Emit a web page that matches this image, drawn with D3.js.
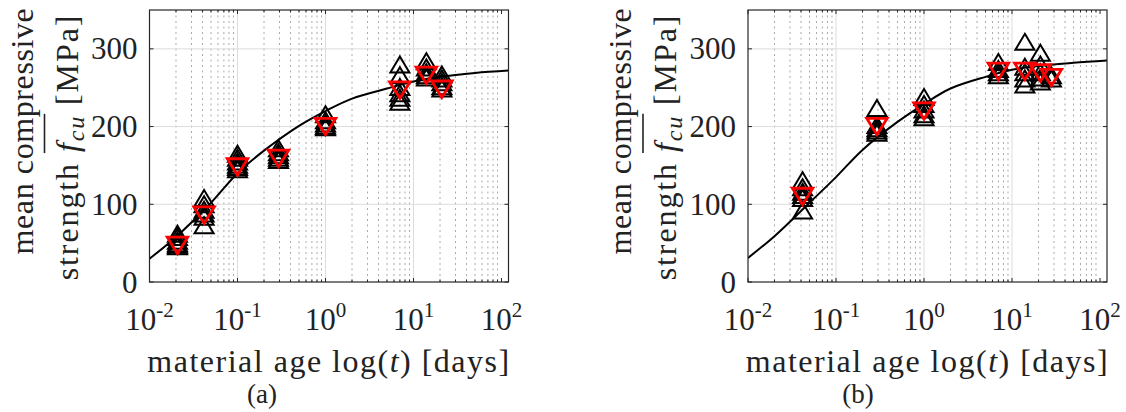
<!DOCTYPE html>
<html>
<head>
<meta charset="utf-8">
<script src="https://cdn.jsdelivr.net/npm/d3@7"></script>
<style>
  html, body { margin: 0; padding: 0; background: #fff; }
  svg { display: block; }
  text { font-family: "Liberation Serif", serif; fill: #222; }
</style>
</head>
<body>
<svg id="chart" width="1126" height="412"></svg>
<script>
// axis ticks
let xTicks = [0.01, 0.1, 1, 10, 100]
let xTickExp = ['-2', '-1', '0', '1', '2']
let yTicks = [0, 100, 200, 300]

// panel (a): ages in days, individual specimens and the mean of each age
let agesA = [0.0208, 0.0417, 0.1, 0.292, 1.0, 7, 14, 21]
let specimensA = [
    [46, 48, 50, 53, 58, 62],
    [73, 84, 88, 93, 100, 108],
    [145, 148, 151, 155, 160, 165],
    [157, 160, 163, 167, 172],
    [199, 201, 204, 208, 216],
    [232, 237, 243, 251, 266, 280],
    [263, 266, 270, 276, 284],
    [249, 252, 257, 262, 267]
]
let meansA = [47, 86, 148, 159, 200, 247, 266, 248]
let fitAgesA = [0.01, 0.02, 0.05, 0.1, 0.2, 0.5, 1, 2, 5, 10, 20, 50, 120]
let fitValsA = [30, 58, 102, 140, 169, 201, 220, 236, 249, 258, 264, 269, 272]

// panel (b)
let agesB = [0.0417, 0.292, 1.0, 7, 14, 21, 28]
let specimensB = [
    [92, 108, 112, 116, 122, 131],
    [192, 195, 198, 202, 224],
    [212, 216, 222, 229, 238],
    [266, 270, 274, 283],
    [254, 262, 270, 277, 309],
    [258, 263, 270, 280, 295],
    [262, 266]
]
let meansB = [110, 200, 220, 271, 271, 269, 263]
let fitAgesB = [0.01, 0.02, 0.05, 0.1, 0.2, 0.5, 1, 2, 5, 10, 20, 50, 120]
let fitValsB = [31, 59, 102, 135, 170, 206, 229, 249, 264, 273, 278, 282, 285]

let svg = d3.select('#chart')
let axisColor = '#262626'

function upTriangle(w, h) {
    return `M0,${-h / 2}L${w / 2},${h / 2}L${-w / 2},${h / 2}Z`
}
function downTriangle(w, h) {
    return `M0,${h / 2}L${w / 2},${-h / 2}L${-w / 2},${-h / 2}Z`
}

function drawPanel(opts) {
    let x0 = opts.left, y0 = 10, w = 359, h = 272
    let x = d3.scaleLog().domain([0.01, 120]).range([x0, x0 + w])
    let y = d3.scaleLinear().domain([0, 350]).range([y0 + h, y0])
    let g = svg.append('g')

    // minor grid (dotted) at 2..9 x decade
    let minor = []
    for (let e = -2; e <= 2; e++) {
        for (let m = 2; m <= 9; m++) {
            let v = m * Math.pow(10, e)
            if (v < 120) minor.push(v)
        }
    }
    g.selectAll('line.minor').data(minor).enter().append('line')
        .attr('class', 'minor')
        .attr('x1', d => x(d)).attr('x2', d => x(d))
        .attr('y1', y0).attr('y2', y0 + h)
        .attr('stroke', '#aaaaaa').attr('stroke-width', 1)
        .attr('stroke-dasharray', '2,3.5')

    // major grid
    g.selectAll('line.gx').data(xTicks.slice(1, 4)).enter().append('line')
        .attr('class', 'gx')
        .attr('x1', d => x(d)).attr('x2', d => x(d))
        .attr('y1', y0).attr('y2', y0 + h)
        .attr('stroke', '#dcdcdc').attr('stroke-width', 1)
    g.selectAll('line.gy').data(yTicks.slice(1)).enter().append('line')
        .attr('class', 'gy')
        .attr('x1', x0).attr('x2', x0 + w)
        .attr('y1', d => y(d)).attr('y2', d => y(d))
        .attr('stroke', '#dcdcdc').attr('stroke-width', 1)

    // ticks on all four sides, pointing inward
    let ticks = g.append('g').attr('stroke', axisColor).attr('stroke-width', 1)
    xTicks.forEach(t => {
        ticks.append('line').attr('x1', x(t)).attr('x2', x(t)).attr('y1', y0 + h).attr('y2', y0 + h - 4)
        ticks.append('line').attr('x1', x(t)).attr('x2', x(t)).attr('y1', y0).attr('y2', y0 + 4)
    })
    minor.forEach(t => {
        ticks.append('line').attr('x1', x(t)).attr('x2', x(t)).attr('y1', y0 + h).attr('y2', y0 + h - 2.5)
        ticks.append('line').attr('x1', x(t)).attr('x2', x(t)).attr('y1', y0).attr('y2', y0 + 2.5)
    })
    yTicks.forEach(v => {
        ticks.append('line').attr('x1', x0).attr('x2', x0 + 4).attr('y1', y(v)).attr('y2', y(v))
        ticks.append('line').attr('x1', x0 + w).attr('x2', x0 + w - 4).attr('y1', y(v)).attr('y2', y(v))
    })

    // fitted curve
    let clipId = 'clip' + opts.key
    svg.append('clipPath').attr('id', clipId).append('rect')
        .attr('x', x0).attr('y', y0).attr('width', w).attr('height', h)
    let line = d3.line()
        .x((d, i) => x(opts.fitAges[i]))
        .y(d => y(d))
        .curve(d3.curveCatmullRom)
    g.append('path')
        .attr('clip-path', `url(#${clipId})`)
        .attr('d', line(opts.fitVals))
        .attr('fill', 'none').attr('stroke', '#000').attr('stroke-width', 2)

    // specimens
    let pts = []
    opts.ages.forEach((a, i) => opts.specimens[i].forEach(v => pts.push({ t: a, v: v })))
    g.selectAll('path.spec').data(pts).enter().append('path')
        .attr('class', 'spec')
        .attr('transform', d => `translate(${x(d.t)},${y(d.v)})`)
        .attr('d', upTriangle(19, 16))
        .attr('fill', 'none').attr('stroke', '#000').attr('stroke-width', 2)

    // means
    g.selectAll('path.mean').data(opts.means).enter().append('path')
        .attr('class', 'mean')
        .attr('transform', (d, i) => `translate(${x(opts.ages[i])},${y(d)})`)
        .attr('d', downTriangle(20.5, 16.5))
        .attr('fill', 'none').attr('stroke', '#ff0000').attr('stroke-width', 2.8)

    // box
    g.append('rect').attr('x', x0).attr('y', y0).attr('width', w).attr('height', h)
        .attr('fill', 'none').attr('stroke', axisColor).attr('stroke-width', 1.2)

    // tick labels
    let fs = 31
    xTicks.forEach((t, i) => {
        let tx = g.append('text').attr('x', x(t)).attr('y', 330)
            .attr('text-anchor', 'middle').style('font-size', fs + 'px')
        tx.append('tspan').text('10')
        tx.append('tspan').attr('dy', -13).style('font-size', '21px').text(xTickExp[i])
    })
    yTicks.forEach(v => {
        g.append('text').attr('x', x0 - 12).attr('y', y(v)).attr('dy', '0.34em')
            .attr('text-anchor', 'end').style('font-size', fs + 'px').text(v)
    })

    // x label
    let xl = g.append('text').attr('x', x0 + w / 2).attr('y', 372)
        .attr('text-anchor', 'middle').style('font-size', '32px').style('letter-spacing', '1.5px')
    xl.append('tspan').text('material age log(')
    xl.append('tspan').style('font-style', 'italic').text('t')
    xl.append('tspan').text(') [days]')

    // y label, two lines
    let l1 = g.append('g').attr('transform', `translate(${x0 - 117},131) rotate(-90)`)
    l1.append('text').attr('text-anchor', 'middle').style('font-size', '32px')
        .style('letter-spacing', '0.6px').text('mean compressive')
    let l2 = g.append('g').attr('transform', `translate(${x0 - 72},147) rotate(-90)`)
    let t2 = l2.append('text').attr('text-anchor', 'middle').style('font-size', '32px')
        .style('letter-spacing', '1.9px')
    t2.append('tspan').text('strength ')
    t2.append('tspan').style('font-style', 'italic').text('f')
    t2.append('tspan').style('font-style', 'italic').style('font-size', '24px').attr('dy', 6).text('cu')
    t2.append('tspan').attr('dy', -6).text(' [MPa]')
    let node = t2.node()
    let i0 = 'strength '.length
    let a = node.getStartPositionOfChar(i0)
    let b = node.getEndPositionOfChar(i0 + 2)
    l2.append('line').attr('x1', a.x - 1).attr('x2', b.x + 1).attr('y1', -33).attr('y2', -33)
        .attr('stroke', '#222').attr('stroke-width', 1.6)

    // sub-caption
    g.append('text').attr('x', opts.caption).attr('y', 403).attr('text-anchor', 'middle')
        .style('font-size', '27px').text(opts.name)
}

drawPanel({ key: 'a', name: '(a)', left: 149.5, caption: 262, ages: agesA, specimens: specimensA, means: meansA, fitAges: fitAgesA, fitVals: fitValsA })
drawPanel({ key: 'b', name: '(b)', left: 748, caption: 858, ages: agesB, specimens: specimensB, means: meansB, fitAges: fitAgesB, fitVals: fitValsB })
</script>
</body>
</html>
